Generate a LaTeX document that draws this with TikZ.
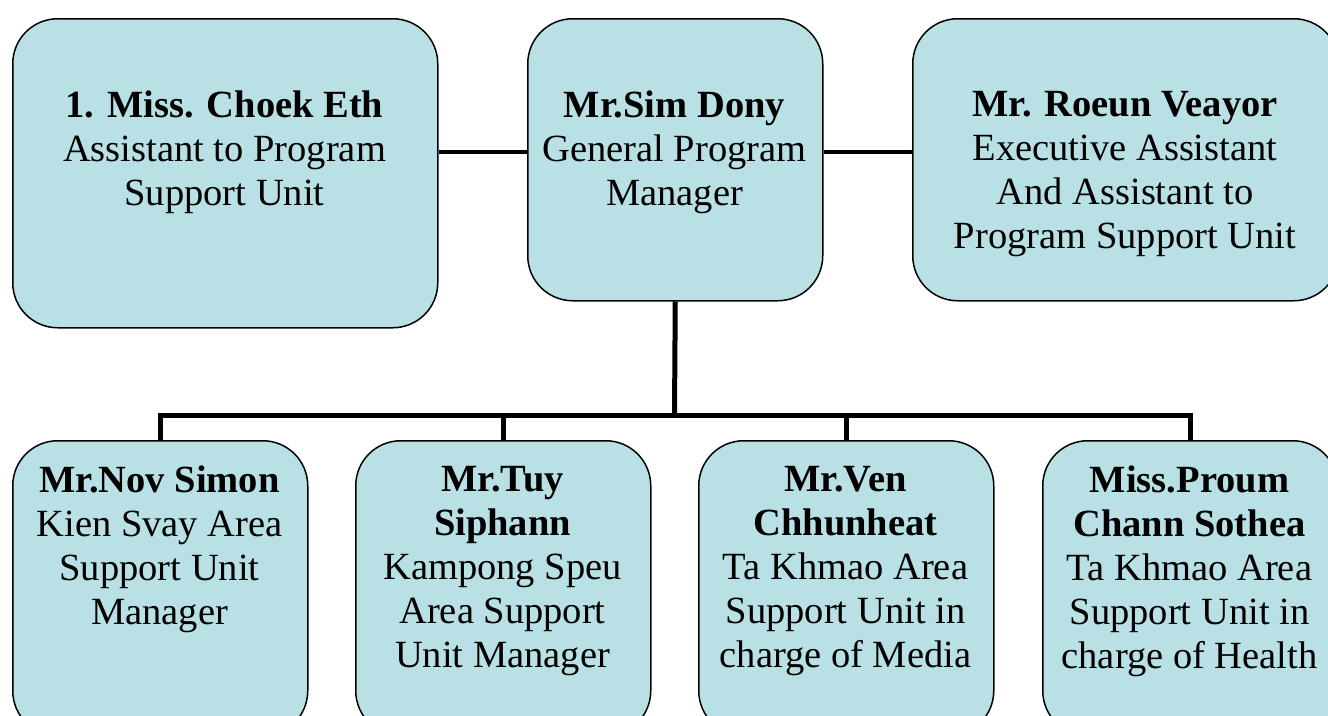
\documentclass[tikz,border=0pt]{standalone}
\usepackage{fontspec}
\setmainfont{Liberation Serif}
\definecolor{boxfill}{RGB}{185,224,228}
\tikzset{
  card/.style={draw=black, line width=1.5pt, fill=boxfill, rounded corners=45pt,
    inner sep=0pt, anchor=north west},
  cardtext/.style={anchor=north, align=center, inner sep=0pt,
    font=\fontsize{38.5}{44}\selectfont},
  toplink/.style={line width=4pt},
  treelink/.style={line width=5pt},
}
\begin{document}
\begin{tikzpicture}[x=1pt,y=-1pt]
  \clip (0,0) rectangle (1328,715);
  \fill[white] (0,0) rectangle (1328,715);

  % top row
  \node[card, minimum width=425pt, minimum height=309pt] (ce) at (12,18) {};
  \node[card, minimum width=295pt, minimum height=282pt] (sd) at (527,18) {};
  \node[card, minimum width=426pt, minimum height=282pt] (rv) at (912,18) {};

  \node[cardtext] (ce-t) at (224.5,91)
    {\textbf{1. Miss. Choek Eth}\\Assistant to Program\\Support Unit};
  \node[cardtext] (sd-t) at (674.5,91)
    {\textbf{Mr.Sim Dony}\\General Program\\Manager};
  \node[cardtext] (rv-t) at (1125,91)
    {\textbf{Mr. Roeun Veayor}\\Executive Assistant\\And Assistant to\\Program Support Unit};

  % bottom row
  \node[card, minimum width=295pt, minimum height=295pt] (b1) at (12,440) {};
  \node[card, minimum width=295pt, minimum height=295pt] (b2) at (355,440) {};
  \node[card, minimum width=295pt, minimum height=295pt] (b3) at (698,440) {};
  \node[card, minimum width=295pt, minimum height=295pt] (b4) at (1042,440) {};

  \node[cardtext] (b1-t) at (159.5,466)
    {\textbf{Mr.Nov Simon}\\Kien Svay Area\\Support Unit\\Manager};
  \node[cardtext] (b2-t) at (502.5,466)
    {\textbf{Mr.Tuy}\\\textbf{Siphann}\\Kampong Speu\\Area Support\\Unit Manager};
  \node[cardtext] (b3-t) at (845.5,466)
    {\textbf{Mr.Ven}\\\textbf{Chhunheat}\\Ta Khmao Area\\Support Unit in\\charge of Media};
  \node[cardtext] (b4-t) at (1189.5,466)
    {\textbf{Miss.Proum}\\\textbf{Chann Sothea}\\Ta Khmao Area\\Support Unit in\\charge of Health};

  % connectors
  \coordinate (row) at (0,152);
  \coordinate (bus) at (674.5,415);
  \draw[toplink] (ce.east |- row) -- (sd.west |- row);
  \draw[toplink] (sd.east |- row) -- (rv.west |- row);
  \draw[treelink] (sd.south) -- (bus);
  \draw[treelink] (b1.north) |- (bus) -| (b4.north);
  \draw[treelink] (b2.north) -- (b2.north |- bus);
  \draw[treelink] (b3.north) -- (b3.north |- bus);
\end{tikzpicture}
\end{document}
